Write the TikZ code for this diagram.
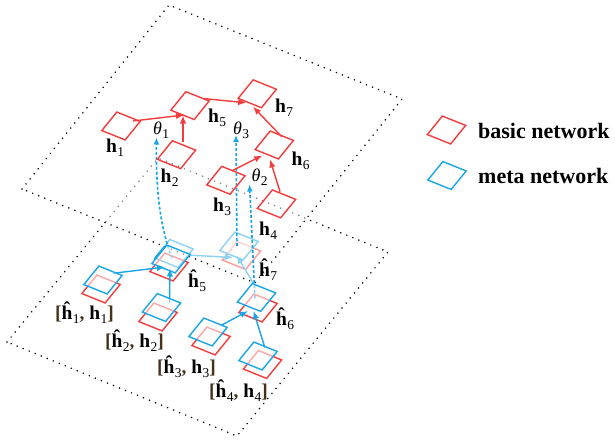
\documentclass[tikz,border=0pt]{standalone}
\usepackage{fontspec}
\setmainfont{Liberation Serif}
\usetikzlibrary{arrows.meta,calc}
\definecolor{cred}{RGB}{245,60,60}
\definecolor{cblue}{RGB}{25,165,230}
\definecolor{cbrk}{RGB}{70,50,25}
\newcommand\lsub[2]{#1\kern0.4pt\raisebox{-4pt}{\fontsize{13.5}{14}\selectfont\mdseries\upshape #2}}
\newcommand\hb[1]{\lsub{\textbf{h}}{#1}}
\newcommand\hh[1]{\lsub{\textbf{ĥ}}{#1}}
\newcommand\thl[1]{\lsub{{\fontsize{18}{18}\selectfont\mdseries\itshape θ}}{#1}}
\newcommand\pairl[1]{{\color{cbrk}[}\hh{#1}{\color{cbrk},} \hb{#1}{\color{cbrk}]}}
\newcommand\dia[2]{\draw[#1] (#2) ++(19.15,-4.55) -- ++(-15,18.5) -- ++(-23.3,-9.4) -- ++(15,-18.5) -- cycle;}
\begin{document}
\begin{tikzpicture}[x=1pt,y=-1pt,
  rdia/.style={draw=cred,line width=1.4pt},
  bdia/.style={draw=cblue,line width=1.4pt,fill=white,fill opacity=0.55},
  bleg/.style={draw=cblue,line width=1.4pt},
  rarr/.style={draw=cred,line width=1.4pt,-{Latex[length=8pt,width=6.5pt]}},
  barr/.style={draw=cblue,line width=1.4pt,-{Latex[length=8pt,width=6.5pt]}},
  darr/.style={draw=cblue,line width=1.6pt,dash pattern=on 3pt off 2pt,-{Latex[length=7pt,width=6pt]}},
  plane/.style={draw=black,line width=1.7pt,line cap=round,dash pattern=on 0pt off 6.5pt},
  lab/.style={inner sep=0pt,anchor=base west,font=\fontsize{19.5}{20}\selectfont\bfseries},
  leg/.style={inner sep=0pt,anchor=base west,font=\fontsize{22}{24}\selectfont\bfseries}]
\useasboundingbox (0,0) rectangle (615,441);
% node centres
\coordinate (h1) at (121,126);
\coordinate (h5) at (190,105.6);
\coordinate (h7) at (257.3,93.8);
\coordinate (h2) at (176.5,154.7);
\coordinate (h6) at (274.3,145);
\coordinate (h3) at (225.9,180.3);
\coordinate (h4) at (276.5,203.9);
\coordinate (hb1) at (103,280);   \coordinate (hr1) at (101,289);
\coordinate (hb2) at (161.5,307.5); \coordinate (hr2) at (158,317);
\coordinate (hb3) at (208,332);   \coordinate (hr3) at (211,341);
\coordinate (hb4) at (258,356);   \coordinate (hr4) at (262.5,364.5);
\coordinate (hb5) at (171,259);   \coordinate (hr5) at (169,267); \coordinate (hg5) at (174,253.5);
\coordinate (hb6) at (256.5,297.5); \coordinate (hr6) at (258,308);
\coordinate (hb7) at (239,246);   \coordinate (hr7) at (241.5,255.5);
\coordinate (t1) at (156.5,137.5);
\coordinate (t2) at (249.5,184.5);
\coordinate (t3) at (236,135);
\coordinate (lg1) at (446.5,130);
\coordinate (lg2) at (447,175.5);
% lower plane
\draw[plane] (7,342) -- (158,158) -- (388,252) -- (237,436) -- cycle;
% parts lying under the upper plane
\dia{rdia}{hr7}
\dia{bdia}{hb7}
\dia{bdia}{hg5}
\draw[barr] ($(hb5)+(16,-4)$) -- ($(hb7)+(-6,11.5)$);
\draw[barr] ($(hb6)+(-3.2,-14.5)$) -- ($(hb7)+(-2.3,9.5)$);
% upper plane
\fill[white,opacity=0.5] (22,189) -- (169,5) -- (402,99) -- (255,283) -- cycle;
\draw[plane] (22,189) -- (169,5) -- (402,99) -- (255,283) -- cycle;
% lower red diamonds
\dia{rdia}{hr1} \dia{rdia}{hr2} \dia{rdia}{hr3} \dia{rdia}{hr4} \dia{rdia}{hr5} \dia{rdia}{hr6}
% dashed meta arrows
\draw[darr] ($(hb5)+(1,-1)$) .. controls (158,222) and (156,180) .. (t1);
\draw[darr] ($(hb6)+(-1.5,0.5)$) -- (t2);
\draw[darr] ($(hb7)+(-2,0)$) -- (t3);
% meta nodes and arrows
\dia{bdia}{hb5} \dia{bdia}{hb6}
\draw[barr] ($(hb1)+(10,-6.7)$) -- ($(hb5)+(-6,8)$);
\draw[barr] ($(hb2)+(8,-4.5)$) -- ($(hb5)+(-1,9.5)$);
\draw[barr] ($(hb3)+(13.7,-7)$) -- ($(hb6)+(-8.5,13.5)$);
\draw[barr] ($(hb4)+(7,-8)$) -- ($(hb6)+(-3,13.5)$);
\dia{bdia}{hb1} \dia{bdia}{hb2} \dia{bdia}{hb3} \dia{bdia}{hb4}
% basic network
\dia{rdia}{h1} \dia{rdia}{h2} \dia{rdia}{h3} \dia{rdia}{h4} \dia{rdia}{h5} \dia{rdia}{h6} \dia{rdia}{h7}
\draw[rarr] ($(h1)+(12,-5)$) -- ($(h5)+(-6,9.4)$);
\draw[rarr] ($(h2)+(6.5,-12.7)$) -- ($(h5)+(-7,9.9)$);
\draw[rarr] ($(h5)+(14,-7)$) -- ($(h7)+(-11,9)$);
\draw[rarr] ($(h6)+(7.4,-8.3)$) -- ($(h7)+(-4.3,12.9)$);
\draw[rarr] ($(h3)+(7,-10)$) -- ($(h6)+(-12,10.5)$);
\draw[rarr] ($(h4)+(3.5,-12.2)$) -- ($(h6)+(-4.3,14.5)$);
% labels
\node[lab] (lh1) at (106,152) {\hb{1}};
\node[lab] (lh2) at (160.5,182) {\hb{2}};
\node[lab] (lh3) at (213,211.5) {\hb{3}};
\node[lab] (lh4) at (259,235) {\hb{4}};
\node[lab] (lh5) at (208,123) {\hb{5}};
\node[lab] (lh6) at (291.5,165) {\hb{6}};
\node[lab] (lh7) at (275,113) {\hb{7}};
\node[lab] (lt1) at (153,135) {\thl{1}};
\node[lab] (lt2) at (251.5,181.5) {\thl{2}};
\node[lab] (lt3) at (233,134) {\thl{3}};
\node[lab] (lp1) at (55,319) {\pairl{1}};
\node[lab] (lp2) at (105,347) {\pairl{2}};
\node[lab] (lp3) at (157,373) {\pairl{3}};
\node[lab] (lp4) at (209,397) {\pairl{4}};
\node[lab] (lq5) at (188,287.5) {\hh{5}};
\node[lab] (lq6) at (276,325.5) {\hh{6}};
\node[lab] (lq7) at (259,276) {\hh{7}};
% legend
\dia{rdia}{lg1}
\dia{bleg}{lg2}
\node[leg] (ln1) at (478,138) {basic network};
\node[leg] (ln2) at (478,183) {meta network};
\end{tikzpicture}
\end{document}
